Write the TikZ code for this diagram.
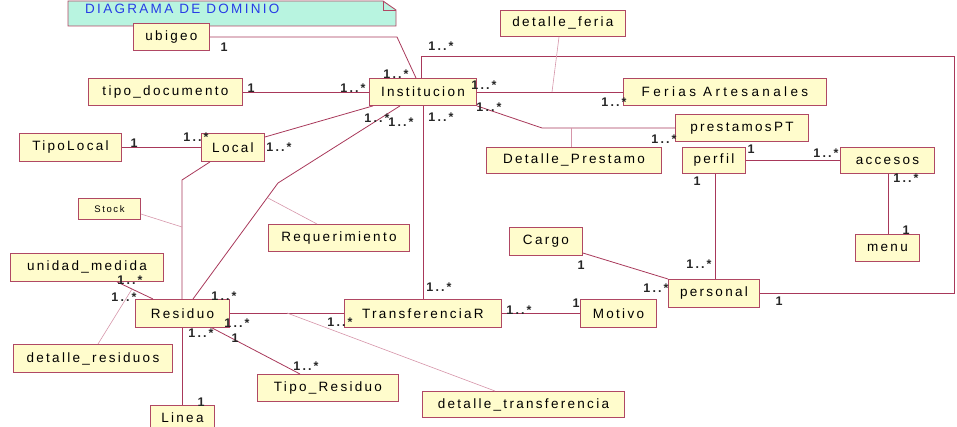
\documentclass[tikz,border=0pt]{standalone}
\usepackage{fontspec}
\setmainfont[LetterSpace=17]{Liberation Sans}
\usepackage{tikz}
\usetikzlibrary{positioning}
\definecolor{borde}{RGB}{176,72,100}
\definecolor{linea}{RGB}{168,56,90}
\definecolor{asoc}{RGB}{214,150,170}
\definecolor{relleno}{RGB}{255,252,204}
\definecolor{nota}{RGB}{184,244,224}
\definecolor{titulo}{RGB}{40,60,230}

\begin{document}
\begin{tikzpicture}[x=1pt,y=-1pt,
    clase/.style={draw=borde,fill=relleno,line width=0.9pt,anchor=north west,
        inner sep=0pt,font=\fontsize{13.5}{14}\selectfont},
    rel/.style={draw=linea,line width=0.8pt},
    relasoc/.style={draw=asoc,line width=0.6pt},
    mult/.style={inner sep=0pt,font=\fontsize{12.5}{13}\selectfont\bfseries,text=black!85}]
\useasboundingbox (0,0) rectangle (957,427);
% nota del titulo
\draw[draw=borde,fill=nota,line width=0.9pt] (68,1) -- (383,1) -- (396,10) -- (396,26) -- (68,26) -- cycle;
\draw[draw=borde,line width=0.6pt] (383,1) -- (383,10) -- (396,10);
\node[inner sep=0pt,anchor=west,text=titulo,font=\fontsize{13.5}{14}\selectfont] (titulo) at (85,9) {DIAGRAMA DE DOMINIO};
% clases
\node[clase,minimum width=76pt,minimum height=27pt] (ubigeo) at (133,23) {ubigeo};
\node[clase,minimum width=154pt,minimum height=27pt] (tipodoc) at (88,78) {tipo\_documento};
\node[clase,minimum width=107pt,minimum height=27pt] (institucion) at (369,78) {Institucion};
\node[clase,minimum width=102pt,minimum height=28pt] (tipolocal) at (19,133) {TipoLocal};
\node[clase,minimum width=63pt,minimum height=28pt] (local) at (201,133) {Local};
\node[clase,minimum width=62pt,minimum height=21pt,font=\fontsize{9.5}{10}\selectfont] (stock) at (78,198) {Stock};
\node[clase,minimum width=125pt,minimum height=26pt] (detferia) at (500,10) {detalle\_feria};
\node[clase,minimum width=203pt,minimum height=27pt] (ferias) at (623,78) {\addfontfeature{LetterSpace=25}Ferias Artesanales};
\node[clase,minimum width=133pt,minimum height=27pt] (prestamos) at (675,114) {prestamosPT};
\node[clase,minimum width=175pt,minimum height=26pt] (detprestamo) at (486,147) {Detalle\_Prestamo};
\node[clase,minimum width=63pt,minimum height=26pt] (perfil) at (682,147) {perfil};
\node[clase,minimum width=94pt,minimum height=26pt] (accesos) at (840,147) {accesos};
\node[clase,minimum width=141pt,minimum height=27pt] (requerimiento) at (268,224) {Requerimiento};
\node[clase,minimum width=73pt,minimum height=28pt] (cargo) at (509,227) {Cargo};
\node[clase,minimum width=64pt,minimum height=27pt] (menu) at (855,234) {menu};
\node[clase,minimum width=153pt,minimum height=28pt] (unidad) at (10,253) {unidad\_medida};
\node[clase,minimum width=91pt,minimum height=28pt] (personal) at (668,279) {personal};
\node[clase,minimum width=94pt,minimum height=28pt] (residuo) at (135,299) {Residuo};
\node[clase,minimum width=157pt,minimum height=28pt] (transferencia) at (344,299) {TransferenciaR};
\node[clase,minimum width=76pt,minimum height=28pt] (motivo) at (580,299) {Motivo};
\node[clase,minimum width=159pt,minimum height=28pt] (detresiduos) at (13,344) {detalle\_residuos};
\node[clase,minimum width=141pt,minimum height=27pt] (tiporesiduo) at (257,374) {Tipo\_Residuo};
\node[clase,minimum width=202pt,minimum height=26pt] (dettransf) at (422,391) {detalle\_transferencia};
\node[clase,minimum width=64pt,minimum height=24pt] (linea) at (150,405) {Linea};
% puntos de quiebre
\coordinate (q1) at (397,37);
\coordinate (q2) at (278,183);
\coordinate (q3) at (182,180);
\coordinate (q4) at (542,128);
\coordinate (q5) at (421,56);
\coordinate (q6) at (954,56);
\coordinate (q7) at (954,293);
\coordinate (aReq) at (268,198);
\coordinate (aStock) at (182,227);
\coordinate (aRes) at (132,289);
\coordinate (aTr) at (287,313);
\coordinate (aFer) at (552,92);
\coordinate (aPre) at (571,128);
% asociaciones
\draw[rel] (ubigeo.east) -- (q1) -- (institucion.north -| 416,0);
\draw[rel] (tipodoc.east) -- (institucion.west);
\draw[rel] (institucion.south west -| 373,0) -- (local.north east |- 0,137);
\draw[rel] (institucion.south -| 400,0) -- (q2) -- (residuo.north -| 193,0);
\draw[rel] (tipolocal.east) -- (local.west);
\draw[rel] (local.south -| 210,0) -- (q3) -- (residuo.north -| 182,0);
\draw[rel] (residuo.south -| 182,0) -- (linea.north -| 182,0);
\draw[rel] (unidad.south -| 117,0) -- (residuo.north -| 153,0);
\draw[rel] (residuo.east) -- (transferencia.west);
\draw[rel] (residuo.south east -| 212,0) -- (tiporesiduo.north -| 300,0);
\draw[rel] (institucion.south -| 423,0) -- (transferencia.north -| 423,0);
\draw[rel] (transferencia.east) -- (motivo.west);
\draw[rel] (institucion.east) -- (ferias.west);
\draw[rel] (institucion.south east) -- (q4) -- (prestamos.west);
\draw[rel] (perfil.east) -- (accesos.west);
\draw[rel] (perfil.south -| 715,0) -- (personal.north -| 715,0);
\draw[rel] (accesos.south -| 888,0) -- (menu.north -| 888,0);
\draw[rel] (cargo.south east |- 0,253) -- (personal.north west);
\draw[rel] (institucion.north -| 421,0) -- (q5) -- (q6) -- (q7) -- (personal.east |- 0,293);
% clases de asociacion
\draw[relasoc] (requerimiento.north -| 317,0) -- (aReq);
\draw[relasoc] (stock.east |- 0,214) -- (aStock);
\draw[relasoc] (detresiduos.north -| 98,0) -- (aRes);
\draw[relasoc] (aTr) -- (dettransf.north -| 495,0);
\draw[relasoc] (detferia.south -| 559,0) -- (aFer);
\draw[relasoc] (aPre) -- (detprestamo.north -| 571,0);
% multiplicidades
\node[mult] (m1) at (224,47) {1};
\node[mult] (m2) at (396,74) {1..*};
\node[mult] (m3) at (251,88) {1};
\node[mult] (m4) at (353,88) {1..*};
\node[mult] (m5) at (441,46) {1..*};
\node[mult] (m6) at (484,85) {1..*};
\node[mult] (m7) at (614,102) {1..*};
\node[mult] (m8) at (489,107) {1..*};
\node[mult] (m9) at (664,139) {1..*};
\node[mult] (m10) at (134,143) {1};
\node[mult] (m11) at (196,137) {1..*};
\node[mult] (m12) at (279,147) {1..*};
\node[mult] (m13) at (377,118) {1..*};
\node[mult] (m14) at (401,122) {1..*};
\node[mult] (m15) at (441,117) {1..*};
\node[mult] (m16) at (751,149) {1};
\node[mult] (m17) at (826,153) {1..*};
\node[mult] (m18) at (697,181) {1};
\node[mult] (m19) at (906,178) {1..*};
\node[mult] (m20) at (906,230) {1};
\node[mult] (m21) at (581,265) {1};
\node[mult] (m22) at (699,264) {1..*};
\node[mult] (m23) at (656,288) {1..*};
\node[mult] (m24) at (779,301) {1};
\node[mult] (m25) at (130,280) {1..*};
\node[mult] (m26) at (124,297) {1..*};
\node[mult] (m27) at (224,296) {1..*};
\node[mult] (m28) at (439,287) {1..*};
\node[mult] (m29) at (237,323) {1..*};
\node[mult] (m30) at (340,322) {1..*};
\node[mult] (m31) at (519,310) {1..*};
\node[mult] (m32) at (576,303) {1};
\node[mult] (m33) at (201,333) {1..*};
\node[mult] (m34) at (235,338) {1};
\node[mult] (m35) at (306,366) {1..*};
\node[mult] (m36) at (201,402) {1};
\end{tikzpicture}
\end{document}
